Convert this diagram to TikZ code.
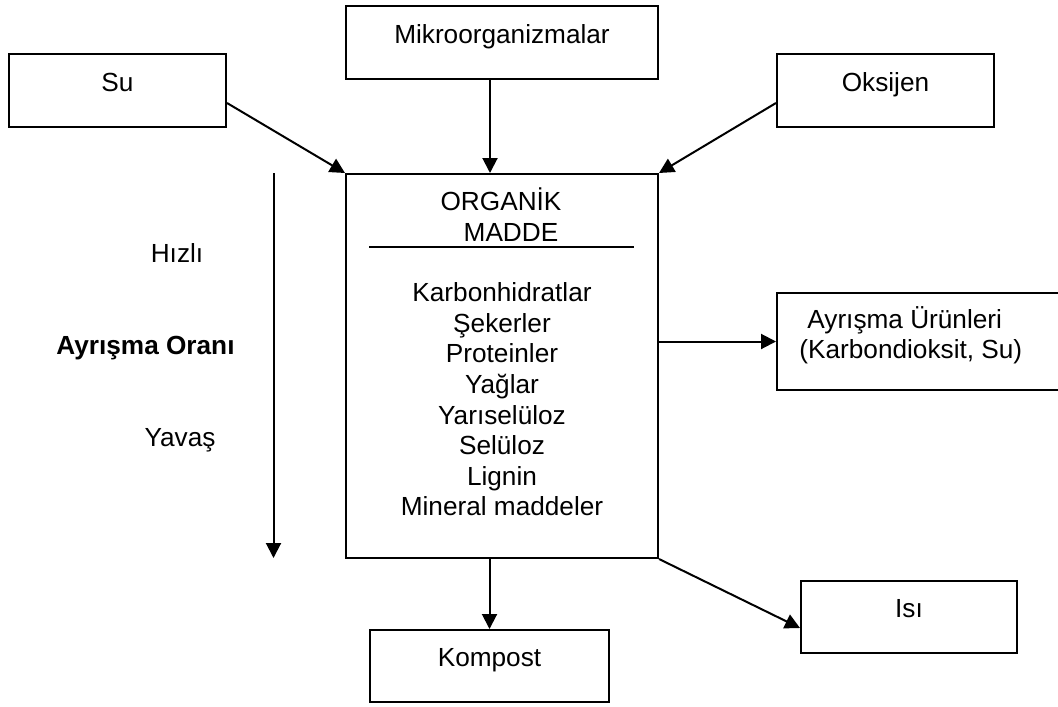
\documentclass[tikz,border=0pt]{standalone}
\usepackage{fontspec}
\setmainfont{Liberation Sans}
\usetikzlibrary{arrows.meta,calc}
\tikzset{
  kutu/.style={draw,line width=1pt,inner sep=0pt,text height=10pt,text depth=9.1pt},
  ok/.style={line width=1pt,-{Triangle[length=7.5pt,width=7.5pt]}}
}
\begin{document}
\begin{tikzpicture}[x=0.5pt,y=-0.5pt,font=\fontsize{13.1}{15.3}\selectfont]
  \useasboundingbox (0,0) rectangle (1058,706);
  \node[kutu,minimum width=108.5pt,minimum height=36.5pt] (su) at (117.5,90.5) {Su};
  \node[kutu,minimum width=156pt,minimum height=36.5pt] (mikro) at (502,42.5) {Mikroorganizmalar};
  \node[kutu,minimum width=108.5pt,minimum height=36.5pt] (oksijen) at (885.5,90.5) {Oksijen};
  \node[draw,line width=1pt,minimum width=156pt,minimum height=192pt] (organik) at (502,366) {};
  \node[align=center] (baslik) at (501,214.7) {ORGANİK\\\hspace*{10pt}MADDE};
  \draw[line width=1pt] (369,246.5)--(634,246.5);
  \node[align=center] (icerik) at (502,399.5) {Karbonhidratlar\\Şekerler\\Proteinler\\Yağlar\\Yarıselüloz\\Selüloz\\Lignin\\Mineral maddeler};
  \node[draw,line width=1pt,minimum width=144.5pt,minimum height=48.5pt] (urun) at (921.5,341.5) {};
  \node[align=left,anchor=west,inner sep=0pt] (urunyazi) at (799,335.3) {\hspace*{4pt}Ayrışma Ürünleri\\(Karbondioksit, Su)};
  \node[kutu,minimum width=119.5pt,minimum height=36pt] (kompost) at (489.5,666) {Kompost};
  \node[kutu,minimum width=108pt,minimum height=36pt] (isi) at (909,617) {Isı};
  % ayrisma orani
  \node (hizli) at (177,253) {Hızlı};
  \node (oran) at (145.5,348) {\bfseries Ayrışma Oranı};
  \node (yavas) at (180,440) {Yavaş};
  \coordinate (oranust) at (273.5,173);
  \coordinate (oranalt) at (273.5,558);
  \draw[ok] (oranust)--(oranalt);
  % oklar
  \draw[ok] ($(su.east)+(0,12.5)$)--(organik.north west);
  \draw[ok] ($(mikro.south)+(-12,0)$)--($(organik.north)+(-12,0)$);
  \draw[ok] ($(oksijen.west)+(0,12.5)$)--(organik.north east);
  \draw[ok] (organik.east |- urun.west)--(urun.west);
  \draw[ok] (organik.south -| kompost.north)--(kompost.north);
  \draw[ok] (organik.south east)--($(isi.west)+(0,11)$);
\end{tikzpicture}
\end{document}
